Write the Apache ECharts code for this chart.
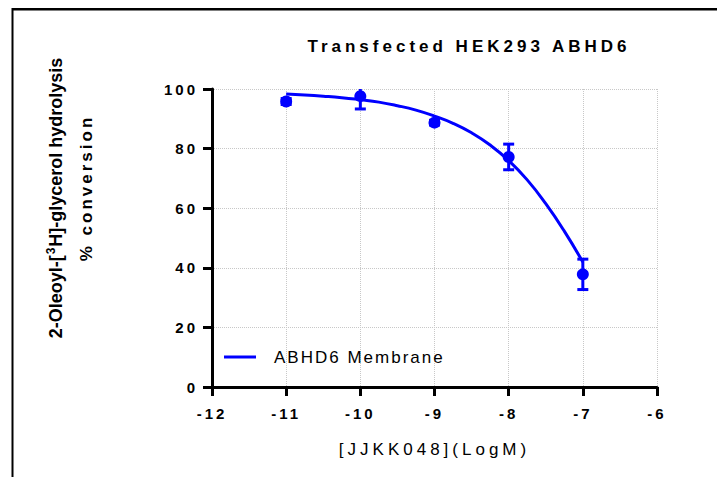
<!DOCTYPE html>
<html><head><meta charset="utf-8">
<script src="https://cdn.jsdelivr.net/npm/echarts@6/dist/echarts.min.js"></script>
<style>html,body{margin:0;padding:0;background:#fff}#c{width:717px;height:477px}</style>
</head><body><div id="c"></div>
<script>
// ---- data ----
const xTicks = [-12, -11, -10, -9, -8, -7, -6];
const yTicks = [0, 20, 40, 60, 80, 100];
const doseX = [-11, -10, -9, -8, -7];
const meanY = [95.8, 97.6, 88.7, 77.2, 37.8];
const semY  = [1.0, 4.3, 0.8, 4.3, 5.1];
const fitX = [-11, -10.75, -10.5, -10.25, -10, -9.75, -9.5, -9.25, -9, -8.75, -8.5, -8.25, -8, -7.75, -7.5, -7.25, -7];
const fitY = [98.3, 98.0, 97.6, 97.1, 96.4, 95.6, 94.4, 92.9, 90.9, 88.5, 85.3, 81.2, 76.0, 69.5, 61.5, 52.3, 41.9];
const titleText = 'Transfected HEK293 ABHD6';
const seriesName = 'ABHD6 Membrane';
const xName = '[JJKK048](LogM)';
const yName1a = '2-Oleoyl-[', yNameSup = '3', yName1b = 'H]-glycerol hydrolysis';
const yName2 = '% conversion';

const FF = 'Arial, "Liberation Sans", Helvetica, sans-serif';
const BLUE = '#0000ff';

const chart = echarts.init(document.getElementById('c'), null, {renderer: 'svg'});

const axisCommon = {
  type: 'value',
  axisLine: {show: true, lineStyle: {color: '#000', width: 3}},
  axisTick: {show: true, length: 9, lineStyle: {color: '#000', width: 3}},
  splitLine: {show: true, lineStyle: {color: '#c8c8c8', type: 'dotted', width: 1}},
  axisLabel: {color: '#000', fontWeight: 'bold', fontSize: 15, fontFamily: FF}
};

const option = {
  animation: false,
  grid: {left: 212, top: 89, width: 445, height: 298, containLabel: false},
  xAxis: Object.assign({}, axisCommon, {
    min: xTicks[0], max: xTicks[xTicks.length - 1], interval: 1,
    axisLabel: Object.assign({}, axisCommon.axisLabel, {margin: 19}),
    name: xName, nameLocation: 'middle', nameGap: 54,
    nameTextStyle: {color: '#000', fontSize: 17, fontFamily: FF}
  }),
  yAxis: Object.assign({}, axisCommon, {
    min: yTicks[0], max: yTicks[yTicks.length - 1], interval: 20,
    axisLabel: Object.assign({}, axisCommon.axisLabel, {margin: 14})
  }),
  legend: {
    data: [seriesName], left: 224, top: 347, padding: 0,
    icon: 'rect', itemWidth: 32, itemHeight: 3,
    textStyle: {color: '#000', fontSize: 17, fontFamily: FF, padding: [0, 0, 0, 13], lineHeight: 20}
  },
  graphic: [
    {type: 'rect', id: 'frameTop', z: 100, shape: {x: 12, y: 8, width: 705, height: 2.5}, style: {fill: '#000'}},
    {type: 'rect', id: 'frameLeft', z: 100, shape: {x: 11.5, y: 8, width: 2, height: 469}, style: {fill: '#000'}},
    {type: 'text', x: 469, y: 46, style: {text: titleText, fill: '#000', font: 'bold 17px ' + FF, textAlign: 'center', textVerticalAlign: 'middle'}},
    {type: 'text', x: 56, y: 198, rotation: Math.PI / 2,
      style: {
        text: '{b|' + yName1a + '}{s|' + yNameSup + '}{b|' + yName1b + '}',
        textAlign: 'center', textVerticalAlign: 'middle',
        rich: {
          b: {fontSize: 18, fontWeight: 'bold', fontFamily: FF, fill: '#000'},
          s: {fontSize: 12, fontWeight: 'bold', fontFamily: FF, fill: '#000', padding: [0, 1, 10, 1]}
        }
      }},
    {type: 'text', x: 86, y: 188, rotation: Math.PI / 2,
      style: {text: yName2, fill: '#000', font: 'bold 17px ' + FF, textAlign: 'center', textVerticalAlign: 'middle'}}
  ],
  series: [
    {
      name: seriesName, type: 'line',
      data: fitX.map((x, i) => [x, fitY[i]]),
      smooth: true, showSymbol: false, symbol: 'none',
      lineStyle: {color: BLUE, width: 3}, itemStyle: {color: BLUE}, z: 3
    },
    {
      name: 'points', type: 'scatter',
      data: doseX.map((x, i) => [x, meanY[i]]),
      symbolSize: 12, itemStyle: {color: BLUE, opacity: 1}, z: 4
    },
    {
      name: 'sem', type: 'custom', clip: true, z: 4,
      data: doseX.map((x, i) => [x, meanY[i] - semY[i], meanY[i] + semY[i]]),
      renderItem: function (params, api) {
        const lo = api.coord([api.value(0), api.value(1)]);
        const hi = api.coord([api.value(0), api.value(2)]);
        const w = 5.5;
        const st = {stroke: BLUE, lineWidth: 3};
        return {type: 'group', children: [
          {type: 'line', shape: {x1: lo[0], y1: lo[1], x2: hi[0], y2: hi[1]}, style: st},
          {type: 'line', shape: {x1: lo[0] - w, y1: lo[1], x2: lo[0] + w, y2: lo[1]}, style: st},
          {type: 'line', shape: {x1: hi[0] - w, y1: hi[1], x2: hi[0] + w, y2: hi[1]}, style: st}
        ]};
      }
    }
  ]
};
chart.setOption(option);

const spacing = {};
spacing[titleText] = 4;
spacing[xName] = 4;
spacing[seriesName] = 2;
spacing[yName2] = 3;
function applySpacing() {
  document.querySelectorAll('#c svg text').forEach(function (t) {
    const s = t.textContent;
    let ls = null;
    if (Object.prototype.hasOwnProperty.call(spacing, s)) ls = spacing[s];
    else if (/^-?\d+$/.test(s) && s !== yNameSup) ls = 3;
    if (ls != null) t.style.letterSpacing = ls + 'px';
  });
}
applySpacing();
chart.on('finished', applySpacing);
setTimeout(applySpacing, 50);
</script>
</body></html>
